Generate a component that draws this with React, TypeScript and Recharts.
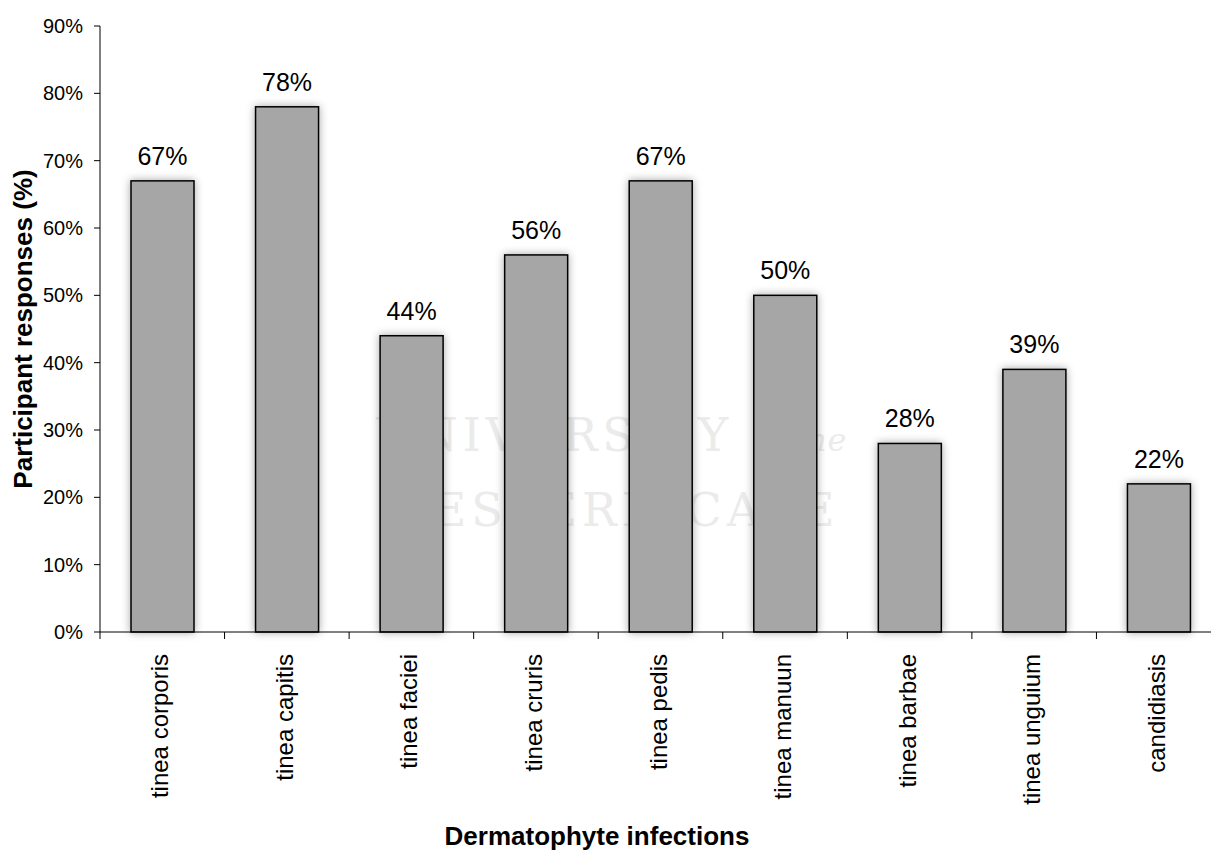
import React from 'react';
import { BarChart, Bar, XAxis, YAxis, LabelList, Label } from 'recharts';

const categories = ['tinea corporis', 'tinea capitis', 'tinea faciei', 'tinea cruris', 'tinea pedis', 'tinea manuun', 'tinea barbae', 'tinea unguium', 'candidiasis'];
const values = [67, 78, 44, 56, 67, 50, 28, 39, 22];
const yTicks = [0, 10, 20, 30, 40, 50, 60, 70, 80, 90];
const xTitle = 'Dermatophyte infections';
const yTitle = 'Participant responses (%)';

const data = categories.map((c, i) => ({ name: c, value: values[i] }));

const FONT = "Arial, 'Liberation Sans', Helvetica, sans-serif";

const XTick = (props: any) => {
  const { x, y, payload } = props;
  const off = payload && payload.offset != null ? payload.offset : 0;
  return (
    <g>
      <line x1={x - off} x2={x - off} y1={y} y2={y + 7} stroke="#000" strokeWidth={1} />
      <text
        transform={`translate(${x},${y + 22}) rotate(-90)`}
        textAnchor="end"
        dy="0.25em"
        fontSize={24}
        fontFamily={FONT}
        fill="#000"
      >
        {payload.value}
      </text>
    </g>
  );
};

const BarShape = (props: any) => {
  const { x, y, width, height, fill } = props;
  return (
    <rect
      x={x}
      y={y}
      width={width}
      height={height}
      fill={fill}
      stroke="#000"
      strokeWidth={1.5}
      style={{ filter: 'drop-shadow(0px 0px 4px rgba(0,0,0,0.35))' }}
    />
  );
};

export default function App() {
  return (
    <div style={{ position: 'absolute', left: 0, top: 0, width: 1211, height: 852, overflow: 'hidden', background: '#fff' }}>
      <div style={{ position: 'absolute', left: 300, top: 400, width: 620, color: '#ebebeb', fontFamily: "'DejaVu Serif', serif", fontSize: 46, lineHeight: '70px', letterSpacing: 5, textAlign: 'center', whiteSpace: 'nowrap', pointerEvents: 'none' }}>
        <div>UNIVERSITY <span style={{ fontStyle: 'italic', fontSize: 32, letterSpacing: 0 }}>of the</span></div>
        <div>WESTERN CAPE</div>
      </div>
      <div style={{ position: 'absolute', left: 0, top: 0 }}>
        <BarChart
          width={1240}
          height={852}
          data={data}
          margin={{ top: 26, right: 19, bottom: 0, left: 0 }}
          barSize={63}
        >
          <XAxis
            dataKey="name"
            type="category"
            height={220}
            tickLine={false}
            tickSize={0}
            tickMargin={0}
            interval={0}
            axisLine={{ stroke: '#000', strokeWidth: 1 }}
            tick={<XTick />}
          >
            <Label
              content={() => (
                <text x={597} y={845} textAnchor="middle" fontSize={26} fontWeight="bold" fontFamily={FONT} fill="#000">
                  {xTitle}
                </text>
              )}
            />
          </XAxis>
          <YAxis
            type="number"
            domain={[0, 90]}
            ticks={yTicks}
            interval={0}
            width={100}
            tickSize={6}
            tickMargin={11}
            tickFormatter={(v: number) => `${v}%`}
            tick={{ fontSize: 20, fill: '#000', fontFamily: FONT }}
            tickLine={{ stroke: '#000' }}
            axisLine={{ stroke: '#000', strokeWidth: 1 }}
          >
            <Label
              content={() => (
                <text
                  transform="translate(25,329) rotate(-90)"
                  textAnchor="middle"
                  dy="0.26em"
                  fontSize={26}
                  fontWeight="bold"
                  fontFamily={FONT}
                  fill="#000"
                >
                  {yTitle}
                </text>
              )}
            />
          </YAxis>
          <Bar dataKey="value" fill="#A6A6A6" isAnimationActive={false} shape={<BarShape />}>
            <LabelList
              dataKey="value"
              position="top"
              offset={16}
              formatter={(v: any) => `${v}%`}
              style={{ fontSize: 25, fill: '#000', fontFamily: FONT }}
            />
          </Bar>
        </BarChart>
      </div>
    </div>
  );
}
